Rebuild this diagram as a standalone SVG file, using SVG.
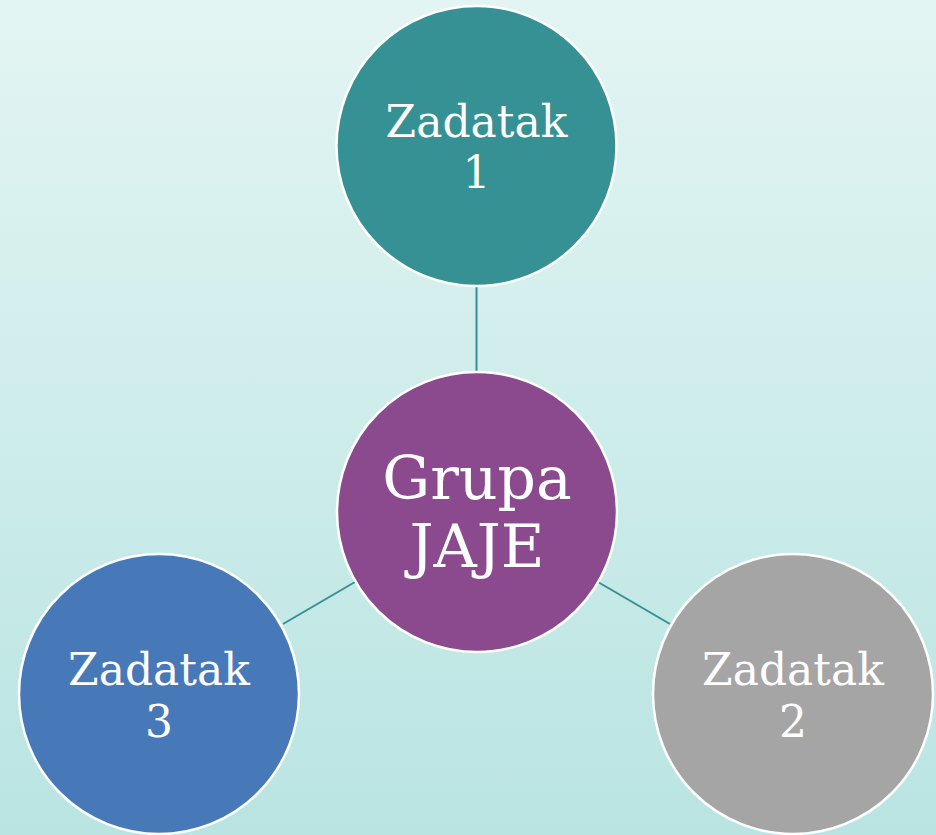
<svg xmlns="http://www.w3.org/2000/svg" width="936" height="835" viewBox="0 0 936 835">
<defs>
<linearGradient id="bg" x1="0" y1="0" x2="0" y2="1">
<stop offset="0" stop-color="#e3f5f3"/>
<stop offset="1" stop-color="#b9e4e2"/>
</linearGradient>
</defs>
<style>
.node{stroke:#ffffff;stroke-width:2.5}
.lbl{font-family:"DejaVu Serif","Liberation Serif",serif;fill:#ffffff;text-anchor:middle}
.sm{font-size:44px}
.lg{font-size:60px}
.conn{stroke:#358f93;stroke-width:2;fill:none}
</style>
<rect x="0" y="0" width="936" height="835" fill="url(#bg)"/>
<g id="connectors">
<line class="conn" x1="476.5" y1="287" x2="476.5" y2="372"/>
<line class="conn" x1="283" y1="624" x2="355" y2="582"/>
<line class="conn" x1="598" y1="582" x2="670" y2="624"/>
</g>
<g id="node-center">
<circle class="node" cx="477" cy="512" r="140" fill="#8a4a8d"/>
<text class="lbl lg" x="477" y="499">Grupa</text>
<text class="lbl lg" x="477" y="567">JAJE</text>
</g>
<g id="node-1">
<circle class="node" cx="476.5" cy="146" r="140" fill="#359194"/>
<text class="lbl sm" x="476.5" y="137">Zadatak</text>
<text class="lbl sm" x="476.5" y="188">1</text>
</g>
<g id="node-2">
<circle class="node" cx="793" cy="694" r="140" fill="#a5a5a5"/>
<text class="lbl sm" x="793" y="685">Zadatak</text>
<text class="lbl sm" x="793" y="737">2</text>
</g>
<g id="node-3">
<circle class="node" cx="159" cy="694" r="140" fill="#4779b9"/>
<text class="lbl sm" x="159" y="685">Zadatak</text>
<text class="lbl sm" x="159" y="737">3</text>
</g>
</svg>
